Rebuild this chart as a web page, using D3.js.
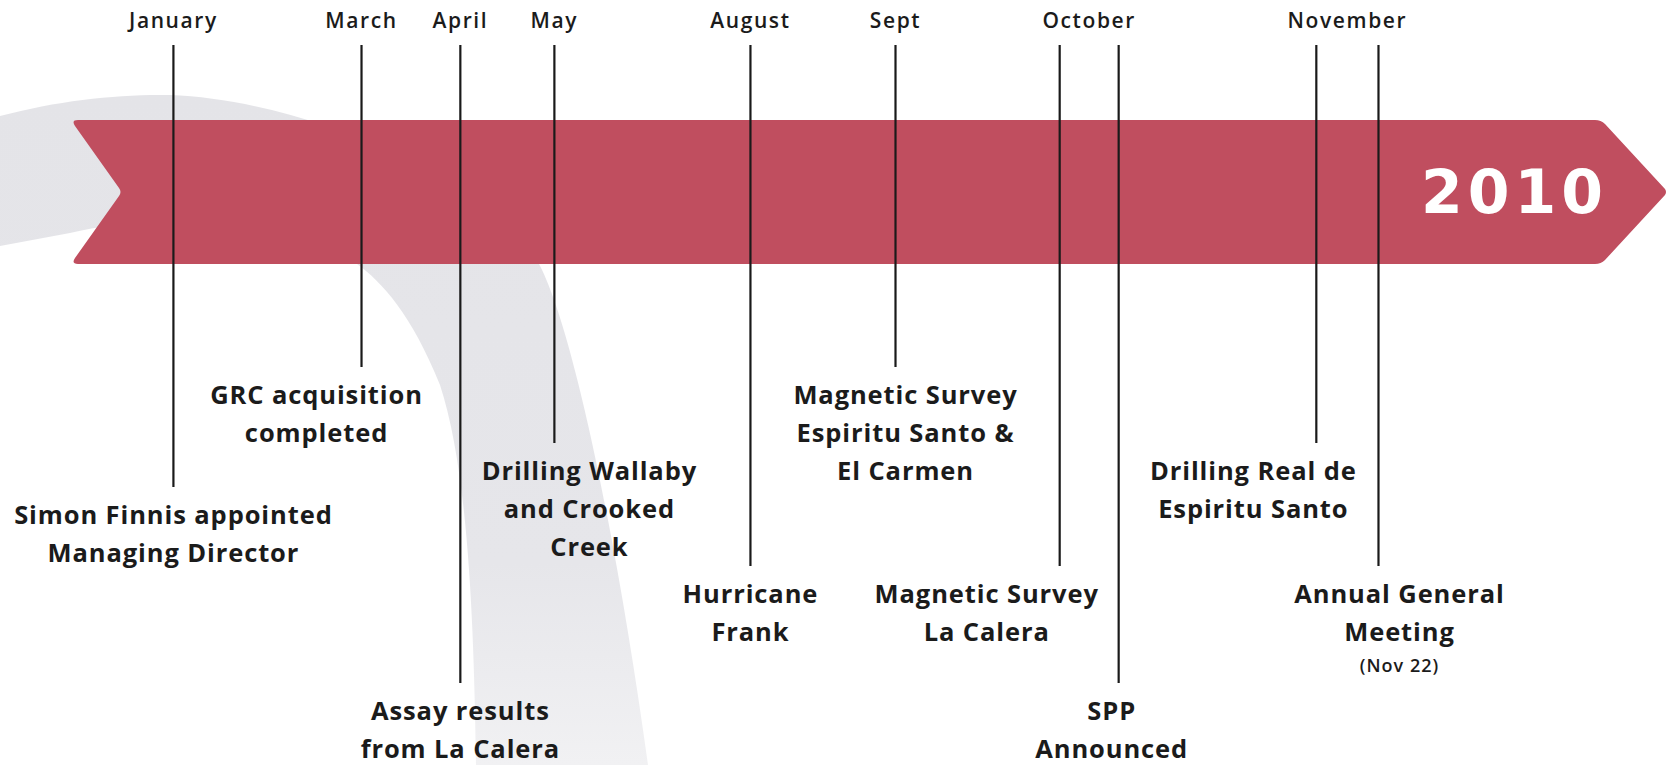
<!DOCTYPE html>
<html>
<head>
<meta charset="utf-8">
<script src="https://cdn.jsdelivr.net/npm/d3@7"></script>
<style>
  html, body { margin: 0; padding: 0; background: #fff; }
  svg { display: block; }
  text { font-family: "Open Sans", "Noto Sans", sans-serif; fill: #1b1b1b; }
  text.year { font-family: "DejaVu Sans", sans-serif; fill: #fff; }
</style>
</head>
<body>
<script>
// timeline data
const yearLabel = "2010";
const monthNames = ["January", "March", "April", "May", "August", "Sept", "October", "November"];
// one entry per event
const eventMonth = ["January", "March", "April", "May", "August", "Sept", "October", "October", "November", "November"];
// position along the banner, 0..100
const eventPos = [6.3, 18.1, 24.3, 30.2, 42.5, 51.6, 61.9, 65.6, 78.0, 81.9];
const eventText = [
  ["Simon Finnis appointed", "Managing Director"],
  ["GRC acquisition", "completed"],
  ["Assay results", "from La Calera"],
  ["Drilling Wallaby", "and Crooked", "Creek"],
  ["Hurricane", "Frank"],
  ["Magnetic Survey", "Espiritu Santo &", "El Carmen"],
  ["Magnetic Survey", "La Calera"],
  ["SPP", "Announced"],
  ["Drilling Real de", "Espiritu Santo"],
  ["Annual General", "Meeting"]
];
const eventNote = ["", "", "", "", "", "", "", "", "", "(Nov 22)"];

// layout: which drop level each stem ends at, and label nudges
const tierY = [367, 443, 487, 566, 683];
const eventTier = [2, 0, 4, 1, 3, 0, 3, 4, 1, 3];
const labelDx = [0, -45, 0, 35, 0, 10, -73, -7, -63, 21];

const width = 1669, height = 765;
const band = {left: 73, right: 1667, top: 120, bottom: 264};
const mid = (band.top + band.bottom) / 2;

const svg = d3.select("body").append("svg")
    .attr("width", width)
    .attr("height", height);

const x = d3.scaleLinear()
    .domain([0, 100])
    .range([band.left, band.right]);

// soft grey swoosh behind everything
const defs = svg.append("defs");
const grad = defs.append("linearGradient")
    .attr("id", "swoosh")
    .attr("x1", 0).attr("y1", 0).attr("x2", 0).attr("y2", 1);
grad.append("stop").attr("offset", "0%").attr("stop-color", "#e4e4e8");
grad.append("stop").attr("offset", "70%").attr("stop-color", "#e6e6ea");
grad.append("stop").attr("offset", "100%").attr("stop-color", "#f1f1f3");

svg.append("path")
    .attr("fill", "url(#swoosh)")
    .attr("d", "M0,116 C60,100 120,94 170,95 C300,100 470,170 538,262 " +
               "C575,330 620,560 648,765 L476,765 C474,620 468,470 440,385 " +
               "C412,315 382,282 357,264 C300,200 150,215 70,233 L0,246 Z");

// the ribbon
const r = 5;
svg.append("path")
    .attr("fill", "#c04e5f")
    .attr("d", [
      `M${band.left + r},${band.top}`,
      `L${band.right - 72},${band.top}`,
      `Q${band.right - 66},${band.top} ${band.right - 62},${band.top + 4}`,
      `L${band.right - 2},${mid - 3}`,
      `Q${band.right},${mid} ${band.right - 2},${mid + 3}`,
      `L${band.right - 62},${band.bottom - 4}`,
      `Q${band.right - 66},${band.bottom} ${band.right - 72},${band.bottom}`,
      `L${band.left + r},${band.bottom}`,
      `Q${band.left - 2},${band.bottom} ${band.left + 2},${band.bottom - 6}`,
      `L${band.left + 46},${mid + 4}`,
      `Q${band.left + 49},${mid} ${band.left + 46},${mid - 4}`,
      `L${band.left + 2},${band.top + 6}`,
      `Q${band.left - 2},${band.top} ${band.left + r},${band.top}`,
      "Z"
    ].join(" "));

svg.append("text")
    .attr("class", "year")
    .attr("x", 1421)
    .attr("y", 213)
    .attr("font-weight", 700)
    .attr("font-size", 60)
    .attr("letter-spacing", 5)
    .text(yearLabel);

// stems
const idx = d3.range(eventPos.length);
svg.append("g")
    .attr("stroke", "#1a1a1a")
    .attr("stroke-width", 2.2)
  .selectAll("line")
  .data(idx)
  .join("line")
    .attr("x1", i => x(eventPos[i]))
    .attr("x2", i => x(eventPos[i]))
    .attr("y1", 45)
    .attr("y2", i => tierY[eventTier[i]]);

// month headings sit over the middle of their stems
svg.append("g")
  .selectAll("text")
  .data(monthNames)
  .join("text")
    .attr("x", m => d3.mean(idx.filter(i => eventMonth[i] === m), i => x(eventPos[i])))
    .attr("y", 28)
    .attr("text-anchor", "middle")
    .attr("font-size", 21)
    .attr("font-weight", 600)
    .attr("letter-spacing", 1.6)
    .text(m => m);

// event captions
const lineH = 38;
const cap = svg.append("g")
  .selectAll("g")
  .data(idx)
  .join("g")
    .attr("transform", i => `translate(${x(eventPos[i]) + labelDx[i]},${tierY[eventTier[i]] + 37})`);

cap.each(function(i) {
  const g = d3.select(this);
  g.selectAll("text.l")
    .data(eventText[i])
    .join("text")
      .attr("class", "l")
      .attr("y", (d, k) => k * lineH)
      .attr("text-anchor", "middle")
      .attr("font-size", 25.5)
      .attr("font-weight", 700)
      .attr("letter-spacing", 0.9)
      .text(d => d);
  if (eventNote[i]) {
    g.append("text")
      .attr("y", eventText[i].length * lineH - 7)
      .attr("text-anchor", "middle")
      .attr("font-size", 18)
      .attr("font-weight", 600)
      .attr("letter-spacing", 1)
      .text(eventNote[i]);
  }
});
</script>
</body>
</html>
